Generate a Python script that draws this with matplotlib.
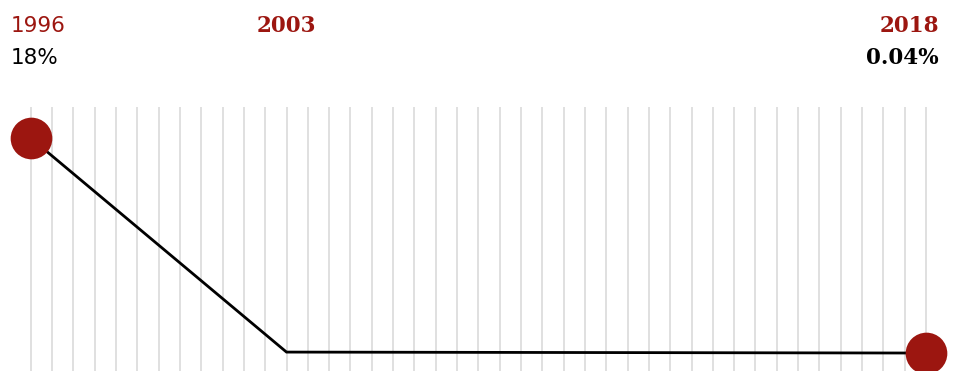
import numpy as np
import matplotlib
matplotlib.use("Agg")
import matplotlib.pyplot as plt
import matplotlib.transforms as mtransforms

# series: share by period index (43 observation columns)
periods = np.arange(43)
point_idx = [0, 12, 42]
share = [18, 0.12, 0.04]
years = ["1996", "2003", "2018"]
value_labels = ["18%", "", "0.04%"]

red = "#9c1610"

fig = plt.figure(figsize=(9.55, 3.71), dpi=100)
ax = fig.add_axes([0, 0, 1, 1])
ax.set_xlim(-1.44, 43.36)
ax.set_ylim(-1.46, 29.53)
ax.axis("off")

# light vertical grid
ax.vlines(periods, -1.6, 20.6, color="#dddddd", lw=1.3, zorder=1)

ax.plot(point_idx, share, color="black", lw=2.0, zorder=2, solid_joinstyle="miter")
ax.scatter([point_idx[0], point_idx[-1]], [share[0], share[-1]], s=900,
           color=red, zorder=3, linewidths=0)

trans = mtransforms.blended_transform_factory(ax.transData, fig.transFigure)
y_year = 1 - 32 / 371
y_val = 1 - 64.5 / 371

sans = dict(family=["DejaVu Sans"], fontsize=15.5)
slab = dict(family=["DejaVu Serif"], fontsize=15.5, fontweight="bold")

# first column labels
ax.text(point_idx[0] - 0.94, y_year, years[0], transform=trans, ha="left",
        va="baseline", color=red, **sans)
ax.text(point_idx[0] - 0.94, y_val, value_labels[0], transform=trans, ha="left",
        va="baseline", color="black", **sans)

ax.text(point_idx[1], y_year, years[1], transform=trans, ha="center",
        va="baseline", color=red, **slab)

ax.text(point_idx[2] + 0.6, y_year, years[2], transform=trans, ha="right",
        va="baseline", color=red, **slab)
ax.text(point_idx[2] + 0.6, y_val, value_labels[2], transform=trans, ha="right",
        va="baseline", color="black", **slab)

fig.savefig("out.png", dpi=100)
